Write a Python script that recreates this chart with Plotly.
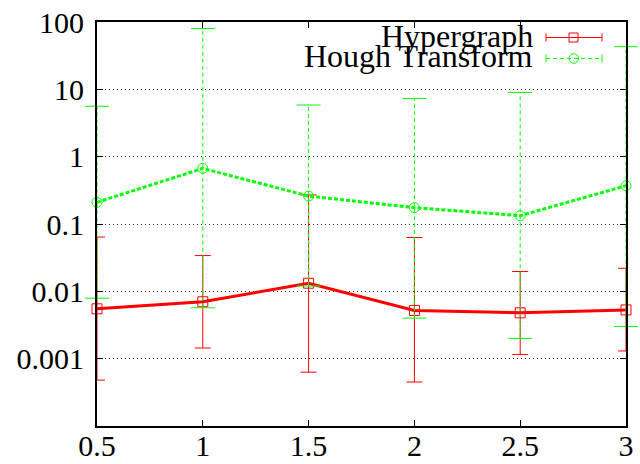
import plotly.graph_objects as go

x_vals = [0.5, 1, 1.5, 2, 2.5, 3]
x_ticklabels = ["0.5", "1", "1.5", "2", "2.5", "3"]
y_tickvals = [0.001, 0.01, 0.1, 1, 10, 100]
y_ticklabels = ["0.001", "0.01", "0.1", "1", "10", "100"]

hyper = [0.0055, 0.0070, 0.0132, 0.0052, 0.0048, 0.0053]
hyper_lo = [0.00048, 0.00144, 0.00063, 0.00045, 0.00115, 0.0013]
hyper_hi = [0.064, 0.034, 0.27, 0.063, 0.0197, 0.022]

hough = [0.21, 0.67, 0.26, 0.175, 0.133, 0.37]
hough_lo = [0.0079, 0.0057, 0.012, 0.0040, 0.0020, 0.0030]
hough_hi = [5.6, 80, 5.85, 7.3, 9.0, 43]

names = ["Hypergraph", "Hough Transform"]

RED = "#ff0000"
GREEN = "#00ff00"
FONT = "Liberation Serif"

fig = go.Figure()

# Hypergraph with solid error bars
fig.add_trace(go.Scatter(
    x=x_vals, y=hyper, mode="lines+markers", name=names[0],
    line=dict(color=RED, width=3),
    marker=dict(symbol="square-open", size=10, color=RED, line=dict(width=1, color=RED)),
    error_y=dict(type="data", symmetric=False,
                 array=[h - v for h, v in zip(hyper_hi, hyper)],
                 arrayminus=[v - l for v, l in zip(hyper, hyper_lo)],
                 color=RED, thickness=1, width=8),
    cliponaxis=False, showlegend=False,
))

# Hough dashed error bars (vertical segments)
seg_x, seg_y = [], []
for xv, lo, hi in zip(x_vals, hough_lo, hough_hi):
    seg_x += [xv, xv, None]
    seg_y += [lo, hi, None]
fig.add_trace(go.Scatter(
    x=seg_x, y=seg_y, mode="lines",
    line=dict(color=GREEN, width=1, dash="4px,3px"),
    showlegend=False, hoverinfo="skip",
))
# caps
fig.add_trace(go.Scatter(
    x=x_vals + x_vals, y=hough_lo + hough_hi, mode="markers",
    marker=dict(symbol="line-ew-open", size=17, color=GREEN, line=dict(width=1, color=GREEN)),
    cliponaxis=False, showlegend=False, hoverinfo="skip",
))

fig.add_trace(go.Scatter(
    x=x_vals, y=hough, mode="lines+markers", name=names[1],
    line=dict(color=GREEN, width=3, dash="4px,2px"),
    marker=dict(symbol="circle-open", size=10, color=GREEN, line=dict(width=1, color=GREEN)),
    cliponaxis=False, showlegend=False,
))

# Layout geometry (pixels)
L, R, T, B = 97, 626, 22, 426
W, H = 640, 464
pw, ph = R - L, B - T

def px(xp):
    return (xp - L) / pw

def py(yp):
    return (B - yp) / ph

# Legend drawn manually (gnuplot style)
leg_rows = [(names[0], 35.5, RED, "solid", "square"), (names[1], 56.5, GREEN, "4px,3px", "circle")]
for text, yc, col, dash, sym in leg_rows:
    fig.add_annotation(xref="paper", yref="paper", x=px(535), y=py(yc),
                       text=text, showarrow=False, xanchor="right", yanchor="middle",
                       font=dict(family=FONT, size=32, color="black"))
    ly = yc + 2
    fig.add_shape(type="line", xref="paper", yref="paper",
                  x0=px(546), x1=px(602), y0=py(ly), y1=py(ly),
                  line=dict(color=col, width=1, dash=None if dash == "solid" else dash))
    for ex in (546, 602):
        fig.add_shape(type="line", xref="paper", yref="paper",
                      x0=px(ex), x1=px(ex), y0=py(ly - 4), y1=py(ly + 4),
                      line=dict(color=col, width=1))
    if sym == "square":
        fig.add_shape(type="rect", xref="paper", yref="paper",
                      x0=px(569), x1=px(578), y0=py(ly - 4.5), y1=py(ly + 4.5),
                      line=dict(color=col, width=1))
    else:
        fig.add_shape(type="circle", xref="paper", yref="paper",
                      x0=px(569), x1=px(578.5), y0=py(ly - 4.75), y1=py(ly + 4.75),
                      line=dict(color=col, width=1))

fig.update_layout(
    width=W, height=H,
    margin=dict(l=L, r=W - R, t=T, b=H - B, pad=0, autoexpand=False),
    paper_bgcolor="white", plot_bgcolor="white",
    font=dict(family=FONT, size=30, color="black"),
    showlegend=False,
)
fig.update_xaxes(
    range=[0.5, 3], tickvals=x_vals, ticktext=x_ticklabels,
    showgrid=False, zeroline=False, automargin=False,
    showline=True, linewidth=2, linecolor="black", mirror="ticks",
    ticks="inside", ticklen=6, tickwidth=1, tickcolor="black",
    tickfont=dict(family=FONT, size=30, color="black"),
    ticklabelstandoff=-8,
)
fig.update_yaxes(
    type="log", range=[-4, 2], tickvals=y_tickvals, ticktext=y_ticklabels,
    showgrid=True, gridcolor="#333333", gridwidth=1, griddash="1px,3px",
    zeroline=False, automargin=False,
    showline=True, linewidth=2, linecolor="black", mirror="ticks",
    ticks="inside", ticklen=6, tickwidth=1, tickcolor="black",
    tickfont=dict(family=FONT, size=30, color="black"),
    ticklabelstandoff=5,
)

fig.write_html("out.html")
